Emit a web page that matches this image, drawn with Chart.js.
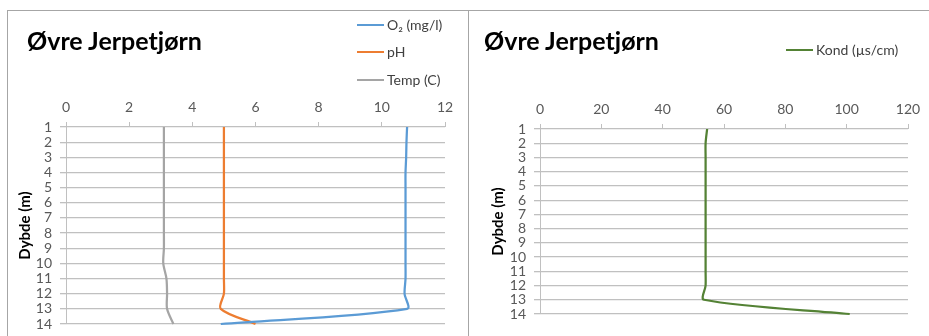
<!DOCTYPE html>
<html>
<head>
<meta charset="utf-8">
<script src="https://cdn.jsdelivr.net/npm/chart.js@4"></script>
<style>
  html, body { margin: 0; padding: 0; background: #fff; }
  body { width: 929px; height: 336px; position: relative; overflow: hidden; font-family: Lato, "Liberation Sans", sans-serif; }
  .frame { position: absolute; left: 7px; top: 10px; width: 940px; height: 340px; border: 1px solid #a6a6a6; box-sizing: border-box; }
  .divider { position: absolute; left: 468px; top: 10px; width: 1px; height: 330px; background: #a6a6a6; }
  .box { position: absolute; top: 11px; height: 325px; }
  .title { position: absolute; font-weight: bold; font-size: 25px; line-height: 1; color: #000; }
  .leg { position: absolute; font-size: 14px; color: #404040; line-height: 1; white-space: nowrap; }
  .leg i { display: inline-block; width: 27px; height: 2px; vertical-align: middle; margin-right: 3px; position: relative; top: -1px; }
</style>
</head>
<body>
<div class="frame"></div>
<div class="divider"></div>
<div class="box" style="left:8px;width:459px"><canvas id="left"></canvas></div>
<div class="box" style="left:469px;width:460px"><canvas id="right"></canvas></div>
<div class="title" style="left:27px;top:28px">Øvre Jerpetjørn</div>
<div class="title" style="left:484px;top:28px">Øvre Jerpetjørn</div>
<div class="leg" style="left:357px;top:18px"><i style="background:#5b9bd5"></i>O₂ (mg/l)</div>
<div class="leg" style="left:357px;top:45px"><i style="background:#ed7d31"></i>pH</div>
<div class="leg" style="left:357px;top:73px"><i style="background:#a5a5a5"></i>Temp (C)</div>
<div class="leg" style="left:786px;top:43px"><i style="background:#548235"></i>Kond (µs/cm)</div>
<script>
var depths = ['1', '2', '3', '4', '5', '6', '7', '8', '9', '10', '11', '12', '13', '14'];
var oxygen = [10.8, 10.78, 10.77, 10.75, 10.75, 10.75, 10.75, 10.75, 10.75, 10.75, 10.75, 10.72, 10.8, 4.9];
var ph = [5, 5, 5, 5, 5, 5, 5, 5, 5, 5, 5, 5, 4.9, 6];
var temp = [3.1, 3.1, 3.1, 3.1, 3.1, 3.1, 3.1, 3.1, 3.1, 3.08, 3.18, 3.2, 3.2, 3.4];
var kond = [54.5, 54, 54, 54, 54, 54, 54, 54, 54, 54, 54, 54, 53.5, 101];

var tickColor = '#595959';
var gridColor = '#c0c0c0';

function lineSet(label, data, color) {
  return {
    label: label,
    data: data,
    borderColor: color,
    backgroundColor: color,
    borderWidth: 2.25,
    pointRadius: 0,
    tension: 0.3,
    fill: false
  };
}

function makeChart(id, datasets, xMax, xStep, yWidth, pad, titlePad) {
  return new Chart(document.getElementById(id), {
    type: 'line',
    data: { labels: depths, datasets: datasets },
    options: {
      indexAxis: 'y',
      responsive: true,
      maintainAspectRatio: false,
      animation: false,
      layout: { padding: pad },
      plugins: { legend: { display: false }, tooltip: { enabled: false } },
      scales: {
        x: {
          type: 'linear',
          position: 'top',
          min: 0,
          max: xMax,
          afterFit: function (s) { s.height = 30; },
          grid: { drawOnChartArea: false, tickLength: 5, color: gridColor },
          border: { display: false },
          ticks: { stepSize: xStep, padding: 6, color: tickColor, font: { family: 'Lato', size: 14 } }
        },
        y: {
          type: 'category',
          offset: false,
          afterFit: function (s) {
            s.width = yWidth;
            // let the layout padding alone decide where the first and last depth sit
            s.paddingTop = 0;
            s.paddingBottom = 0;
          },
          grid: { color: gridColor, lineWidth: 1.3, tickLength: 6 },
          border: { color: gridColor },
          ticks: { padding: 8, color: tickColor, autoSkip: false, font: { family: 'Lato', size: 14 } },
          title: {
            display: true,
            text: 'Dybde (m)',
            color: '#000',
            padding: { top: titlePad, bottom: 0 },
            font: { family: 'Lato', size: 15, weight: 'bold' }
          }
        }
      }
    }
  });
}

makeChart('left', [
  lineSet('O₂ (mg/l)', oxygen, '#5b9bd5'),
  lineSet('pH', ph, '#ed7d31'),
  lineSet('Temp (C)', temp, '#a5a5a5')
], 12, 2, 58, { left: 0, top: 86, right: 22, bottom: 12 }, 8);

makeChart('right', [
  lineSet('Kond (µs/cm)', kond, '#548235')
], 120, 20, 71, { left: 0, top: 88, right: 21, bottom: 22 }, 20);
</script>
</body>
</html>
